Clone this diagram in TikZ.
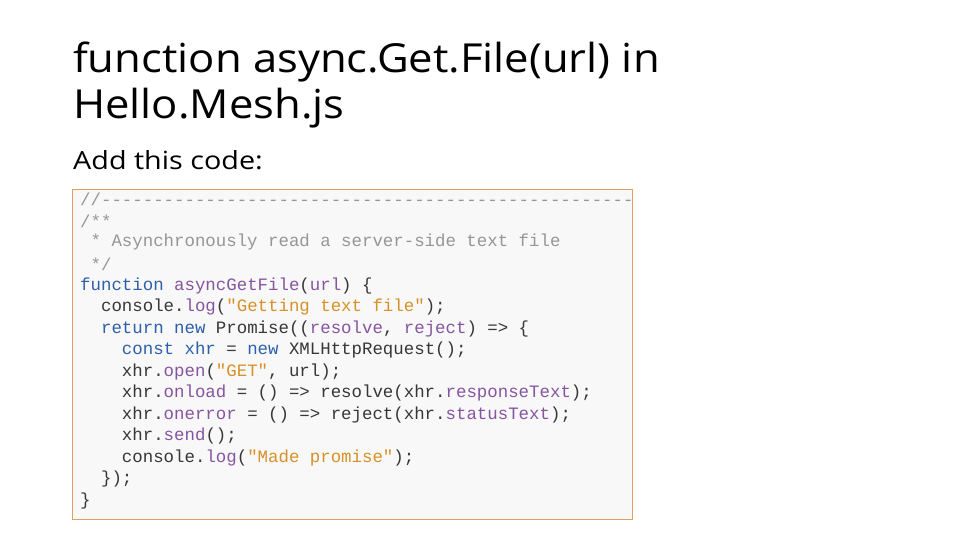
\documentclass[tikz,border=0pt]{standalone}
\usepackage{fontspec}
\setmainfont{Open Sans}
\setmonofont{Liberation Mono}
\definecolor{cmt}{RGB}{150,150,150}
\definecolor{kw}{RGB}{45,95,170}
\definecolor{pur}{RGB}{135,85,160}
\definecolor{str}{RGB}{215,145,40}
\definecolor{pln}{RGB}{55,55,55}
\definecolor{bg}{RGB}{248,248,248}
\definecolor{bd}{RGB}{220,160,95}
\newcommand{\K}[1]{\textcolor{kw}{#1}}
\newcommand{\Pu}[1]{\textcolor{pur}{#1}}
\newcommand{\Sx}[1]{\textcolor{str}{#1}}
\newcommand{\Cm}[1]{\textcolor{cmt}{#1}}
\begin{document}
\begin{tikzpicture}[x=1pt,y=-1pt,
  code/.style={anchor=west,inner sep=0pt,font=\fontsize{17.4}{18}\ttfamily,text=pln}]
\useasboundingbox (0,0) rectangle (960,540);
\node[anchor=base west,inner sep=0pt,font=\fontsize{40}{48}\selectfont\addfontfeature{FakeStretch=1.09}] (t1) at (73,73) {function async.Get.File(url) in};
\node[anchor=base west,inner sep=0pt,font=\fontsize{40}{48}\selectfont\addfontfeature{FakeStretch=1.09}] (t2) at (73,119) {Hello.Mesh.js};
\node[anchor=base west,inner sep=0pt,font=\fontsize{25}{30}\selectfont\addfontfeature{FakeStretch=1.15}] (t3) at (73,170) {Add this code:};
\draw[bd,fill=bg,line width=1pt] (72,189) rectangle (632,519);
\begin{scope}
\clip (73,190) rectangle (631,518);
\node[code] (l1) at (80,199.5) {\Cm{//--------------------------------------------------------------}};
\end{scope}
\node[code] (l2) at (80,221) {\Cm{/**}};
\node[code] (l3) at (80,242.5) {\Cm{\ * Asynchronously read a server-side text file}};
\node[code] (l4) at (80,264) {\Cm{\ */}};
\node[code] (l5) at (80,285.5) {\K{function} \Pu{asyncGetFile}(\Pu{url}) \{};
\node[code] (l6) at (80,307) {\ \ console.\Pu{log}(\Sx{"Getting text file"});};
\node[code] (l7) at (80,328.5) {\ \ \K{return} \K{new} Promise((\Pu{resolve}, \Pu{reject}) => \{};
\node[code] (l8) at (80,350) {\ \ \ \ \K{const} \K{xhr} = \K{new} XMLHttpRequest();};
\node[code] (l9) at (80,371.5) {\ \ \ \ xhr.\Pu{open}(\Sx{"GET"}, url);};
\node[code] (l10) at (80,393) {\ \ \ \ xhr.\Pu{onload} = () => resolve(xhr.\Pu{responseText});};
\node[code] (l11) at (80,414.5) {\ \ \ \ xhr.\Pu{onerror} = () => reject(xhr.\Pu{statusText});};
\node[code] (l12) at (80,436) {\ \ \ \ xhr.\Pu{send}();};
\node[code] (l13) at (80,457.5) {\ \ \ \ console.\Pu{log}(\Sx{"Made promise"});};
\node[code] (l14) at (80,479) {\ \ \});};
\node[code] (l15) at (80,500.5) {\}};
\end{tikzpicture}
\end{document}
